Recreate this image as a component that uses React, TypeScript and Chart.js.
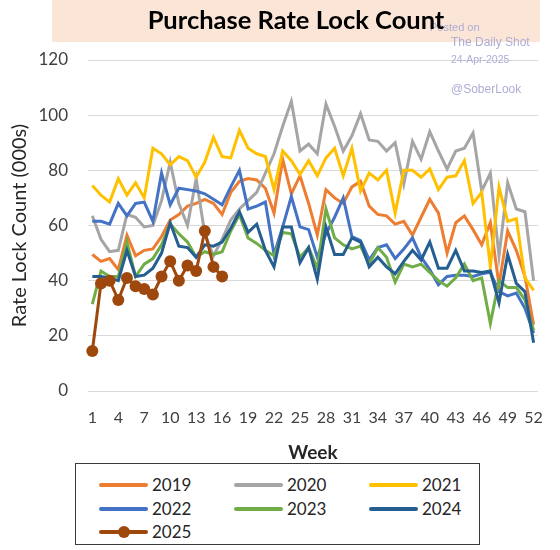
import React, { useEffect, useRef } from "react";
import { Chart, registerables } from "chart.js";

Chart.register(...registerables);

const weeks = [
  "1", "2", "3", "4", "5", "6", "7", "8", "9", "10",
  "11", "12", "13", "14", "15", "16", "17", "18", "19", "20",
  "21", "22", "23", "24", "25", "26", "27", "28", "29", "30",
  "31", "32", "33", "34", "35", "36", "37", "38", "39", "40",
  "41", "42", "43", "44", "45", "46", "47", "48", "49", "50",
  "51", "52",
];

const y2019 = [
  49.5, 47, 48, 44, 56.5, 49, 51, 51.5, 56, 62,
  64, 67, 68, 69.5, 68, 64, 72, 76, 77, 76.5,
  73.5, 64.5, 84, 71.5, 78, 68, 56.5, 73, 70, 68,
  74, 76, 67, 64, 63.5, 60.5, 61.5, 56.5, 63, 69.5,
  64.5, 50, 61, 63.5, 58.5, 53, 61, 38.5, 58, 51,
  41.5, 24,
];
const y2020 = [
  63.5, 55, 50.5, 51, 64, 63, 59.5, 60, 69, 83,
  68, 60, 77, 57, 49, 55, 62, 66, 69, 72,
  79, 86, 96, 105, 87, 89.5, 86, 104, 96, 87,
  92.5, 100.5, 91, 90.5, 87, 90, 75, 90.5, 84, 94,
  87, 80.5, 87, 88, 93.5, 72.5, 79, 49, 75.5, 66,
  65, 40,
];
const y2021 = [
  74.5, 71, 68.5, 77, 71, 75.5, 70, 88, 86, 82,
  85, 83.5, 77.5, 83, 92, 85, 84.5, 94.5, 88, 86,
  85, 73, 87, 83.5, 78.5, 83.5, 78, 84.5, 88, 78,
  88, 72.5, 79, 76.5, 80, 64.5, 80, 80, 77.5, 80.5,
  73, 77.5, 78, 83.5, 68, 72, 45, 74, 61.5, 62.5,
  41, 36.5,
];
const y2022 = [
  61.5, 61.5, 60.5, 68, 63.5, 68, 68.5, 61.5, 79, 67.5,
  73.5, 73, 72.5, 71.5, 69.5, 67.5, 74, 80, 66, 67,
  68.5, 49.5, 59.5, 70.5, 59.5, 58.5, 48.5, 57, 63, 70,
  56, 54.5, 47.5, 52, 53, 48, 51.5, 55.5, 48.5, 44,
  38.5, 41.5, 42, 42, 41.5, 42.5, 43, 36, 34.5, 35.5,
  30, 21,
];
const y2023 = [
  31.5, 43.5, 41.5, 41.5, 54, 41.5, 46, 48, 53, 60.5,
  57, 54, 48.5, 50.5, 49.5, 50.5, 58, 64, 55.5, 53.5,
  51, 49, 57.5, 57, 48.5, 52, 44.5, 66, 55.5, 53,
  51.5, 52.5, 46, 52, 48.5, 39.5, 46, 45, 46, 43,
  40, 38, 41, 46, 40, 41, 24.5, 40, 37.5, 37.5,
  33, 22,
];
const y2024 = [
  41.5, 41.5, 41, 40, 51, 41.5, 42, 44.5, 50, 61,
  52.5, 52, 48.5, 53, 52.5, 54, 59, 65, 57.5, 60.5,
  51, 45, 59.5, 59.5, 46.5, 52, 40.5, 59.5, 49.5, 49.5,
  55.5, 54, 45, 48.5, 45, 42.5, 47, 51, 47.5, 54,
  44.5, 44.5, 51, 43.5, 43.5, 43, 43.5, 32, 49.5, 39,
  36, 17.5,
];
const y2025 = [14.5, 39, 40, 33, 41, 38, 37, 35, 41.5, 47, 40, 45.5, 43.5, 58, 45, 41.5];

const seriesNames = ["2019", "2020", "2021", "2022", "2023", "2024", "2025"];
const seriesValues = [y2019, y2020, y2021, y2022, y2023, y2024, y2025];
const seriesColors = ["#ED7D31", "#A5A5A5", "#FFC000", "#4472C4", "#70AD47", "#255E91", "#9E480E"];

const yTicks = [0, 20, 40, 60, 80, 100, 120];

const FONT = "Lato, 'Open Sans', sans-serif";

export default function App() {
  const canvasRef = useRef<HTMLCanvasElement | null>(null);

  useEffect(() => {
    const canvas = canvasRef.current;
    if (!canvas) return;
    const datasets = seriesNames.map((name, i) => {
      const isMarker = name === "2025";
      return {
        label: name,
        data: seriesValues[i],
        borderColor: seriesColors[i],
        backgroundColor: seriesColors[i],
        borderWidth: 3,
        pointRadius: isMarker ? 6 : 0,
        pointBorderWidth: 0,
        pointBackgroundColor: seriesColors[i],
        tension: 0,
        fill: false,
        order: seriesNames.length - i,
      };
    });
    const chart = new Chart(canvas, {
      type: "line",
      data: { labels: weeks, datasets },
      options: {
        responsive: false,
        animation: false,
        layout: { padding: { left: 0, right: 11, top: 60, bottom: 0 } },
        plugins: {
          legend: { display: false },
          tooltip: { enabled: false },
          title: { display: false },
        },
        scales: {
          x: {
            type: "category",
            offset: true,
            grid: { display: false, drawTicks: false },
            border: { display: false },
            ticks: {
              autoSkip: false,
              maxRotation: 0,
              minRotation: 0,
              padding: 17,
              color: "#404040",
              font: { family: FONT, size: 16 },
              callback: (_v: any, i: number) => (i % 3 === 0 ? weeks[i] : ""),
            },
            title: {
              display: true,
              text: "Week",
              color: "#262626",
              font: { family: FONT, size: 19, weight: "bold" },
              padding: { top: 0, bottom: 0 },
            },
            afterFit: (s: any) => {
              s.height = 73;
            },
          },
          y: {
            min: yTicks[0],
            max: yTicks[yTicks.length - 1],
            afterBuildTicks: (s: any) => {
              s.ticks = yTicks.map((v) => ({ value: v }));
            },
            grid: { color: "#D9D9D9", lineWidth: 1, drawTicks: false },
            border: { display: false },
            ticks: {
              padding: 20,
              color: "#404040",
              font: { family: FONT, size: 17 },
            },
            title: {
              display: true,
              text: "Rate Lock Count (000s)",
              color: "#262626",
              font: { family: FONT, size: 20 },
              padding: { top: 8, bottom: 0 },
            },
            afterFit: (s: any) => {
              s.width = 88;
            },
          },
        },
      },
    } as any);
    return () => chart.destroy();
  }, []);

  const legendCols = [23, 158, 293];
  const legendRows = [21, 45, 68];

  return (
    <div
      style={{
        position: "fixed",
        left: 0,
        top: 0,
        width: 560,
        height: 550,
        background: "#ffffff",
        overflow: "hidden",
        fontFamily: FONT,
      }}
    >
      <div
        style={{
          position: "absolute",
          left: 52,
          top: 0,
          width: 488,
          height: 42,
          background: "#FBE5D6",
        }}
      />
      <canvas
        ref={canvasRef}
        width={560}
        height={464}
        style={{ position: "absolute", left: 0, top: 0, width: 560, height: 464 }}
      />
      {[
        { t: "Posted on", l: 430, top: 20, s: 11 },
        { t: "The Daily Shot", l: 451, top: 35, s: 12 },
        { t: "24-Apr-2025", l: 451, top: 53, s: 10.5 },
        { t: "@SoberLook", l: 451, top: 82, s: 12 },
      ].map((w) => (
        <div
          key={w.t}
          style={{
            position: "absolute",
            left: w.l,
            top: w.top,
            fontSize: w.s,
            lineHeight: `${w.s + 3}px`,
            fontFamily: "'Liberation Sans', Arial, sans-serif",
            color: "#ADADD6",
            whiteSpace: "nowrap",
          }}
        >
          {w.t}
        </div>
      ))}
      <div
        style={{
          position: "absolute",
          left: 52,
          top: 4,
          width: 488,
          height: 30,
          lineHeight: "30px",
          textAlign: "center",
          fontSize: 25.5,
          fontWeight: 700,
          color: "#000000",
          fontFamily: FONT,
        }}
      >
        Purchase Rate Lock Count
      </div>
      <div
        style={{
          position: "absolute",
          left: 75,
          top: 463,
          width: 405,
          height: 82,
          boxSizing: "border-box",
          border: "1.5px solid #3A3A3A",
          background: "#ffffff",
        }}
      >
        {seriesNames.map((name, i) => {
          const col = legendCols[i % 3];
          const row = legendRows[Math.floor(i / 3)];
          const isMarker = name === "2025";
          return (
            <React.Fragment key={name}>
              <div
                style={{
                  position: "absolute",
                  left: col,
                  top: row - 2,
                  width: 49,
                  height: 4,
                  borderRadius: 2,
                  background: seriesColors[i],
                }}
              />
              {isMarker && (
                <div
                  style={{
                    position: "absolute",
                    left: col + 24.5 - 6,
                    top: row - 6,
                    width: 12,
                    height: 12,
                    borderRadius: 6,
                    background: seriesColors[i],
                  }}
                />
              )}
              <div
                style={{
                  position: "absolute",
                  left: col + 53,
                  top: row - 11,
                  height: 22,
                  lineHeight: "22px",
                  fontSize: 17,
                  color: "#262626",
                  fontFamily: FONT,
                }}
              >
                {name}
              </div>
            </React.Fragment>
          );
        })}
      </div>
    </div>
  );
}
